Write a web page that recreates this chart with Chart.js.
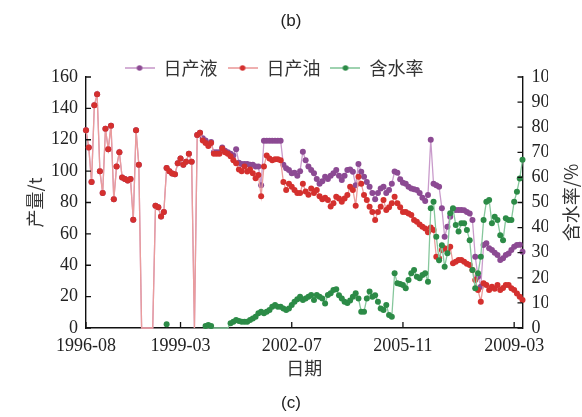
<!DOCTYPE html>
<html><head><meta charset="utf-8">
<script src="https://cdn.jsdelivr.net/npm/chart.js@4.4.1/dist/chart.umd.min.js"></script>
<style>
body{margin:0;background:#fff;}
#wrap{position:relative;width:582px;height:417px;}
.cap{position:absolute;left:0;width:582px;text-align:center;font:17px "Liberation Sans",Arial,sans-serif;color:#222;}
</style></head><body>
<div id="wrap"><canvas id="c" width="582" height="417"></canvas>
<div class="cap" style="top:11px">(b)</div>
<div class="cap" style="top:393px">(c)</div>
</div>
<script>
const seriesNames = ['日产液', '日产油', '含水率'];
const xTitle = '日期';
const leftTitle = '产量/t';
const rightTitle = '含水率/%';
const tickIndex = [0, 34, 74, 114, 154];
const tickLabels = ['1996-08', '1999-03', '2002-07', '2005-11', '2009-03'];

const oil = [126,115,93,142,149,100,86,127,114,129,82,103,112,96,95,94,95,69,126,104,
  0,0,0,0,0,
  78,77,71,74,102,100,98.5,98,105,108,104,106,111,106,
  0,
  123,124.5,119.5,118,116,118,111,111,111,114.5,112,111,109.5,107,105,
  101,100,103,99.7,101,98.6,95.4,97.5,
  84,103,110,108,107,107.5,107.5,107,
  93,88,92,90,88,86,86,
  92,87,85,89,86,88,84,82,83,81.6,
  77.5,79.5,83.7,82.6,80.5,82.6,84.8,90,88,78,
  96.4,92,84.8,81.6,77.3,74,68.8,74,77.3,81.6,
  75.2,77,79.5,83.7,79.5,77,74,74,73,72,
  68.8,67.7,66,64.6,63.5,61,64,62.5,45.4,44.4,
  49.7,50.8,49.7,51.8,41.2,42.3,43.3,43.3,42.3,41,
  40.2,37,30.6,24.2,16.8,28.5,27.4,24.2,26.3,25,
  27.4,24.2,25.5,27.4,27.4,25.3,24.2,22,20,17.8];

const liquid = [126,115,93,142,149,100,86,127,114,129,82,103,112,96,95,94,95,69,126,104,
  0,0,0,0,0,
  78,77,71,74,102,100,98.5,98,105,108,104,106,111,106,
  0,
  123,124.5,
  121,119.5,117,118.5,112,112,112,115,113,112,111,110,114,
  105.4,104.6,104.6,104.6,104,104,103,103,
  91,119.4,119.4,119.4,119.4,119.4,119.4,119.4,
  104,101.8,100.7,98.6,99,97,100,
  112.4,107,103,100.7,98.6,95,92,93.6,96.4,95,
  97,98.6,100.7,97,94.3,97,100.7,101,99.6,91,
  104.5,99.6,96.4,93,90,86,82,86,89,90,
  86,88,92,99.7,99,94.8,92.6,92,90,89,
  88.4,88,86,83,81,84.8,120,92,91,90,
  76.3,58.2,64.6,70.9,75.2,75.2,75.2,75.2,75,74,
  73,68.8,45.4,32.7,26.3,52.9,54,50.8,49.7,48,
  46.5,43.3,44.4,46.5,47.5,49.7,51.8,52.9,53,48.6];

const waterCut = [null,null,null,null,null,null,null,null,null,null,
  null,null,null,null,null,null,null,null,null,null,
  null,null,null,null,null,null,null,null,null,
  1.5,
  null,null,null,null,null,null,null,null,null,null,null,null,null,
  0.8,1.2,0.8,
  0,0,0,0,0,0,
  1.9,2.5,3.2,2.8,2.5,2.5,2.5,3.2,3.8,4.5,
  5.9,6.5,5.9,6.5,7.2,8.5,9.2,8.5,8.5,7.8,
  7.2,7.8,9.2,10.5,11.5,12.5,11.2,11.8,12.5,13.1,
  11.2,13.1,12.5,11.8,9.8,13.1,13.8,15.1,15.4,13,
  11.8,10.5,10,11,12.5,13.8,11.8,6.5,6.5,11.8,
  14.5,12.5,13,10.5,7.8,7.2,9.2,5.2,4.5,21.8,
  17.8,17.5,17.1,15.8,19.1,21.8,23.1,20.4,19.8,21.1,
  21.8,18.4,47.7,50.3,36.4,27,33,24.4,29.8,45.7,
  47.7,41,38.4,41.7,41.7,39,35,23.1,15.8,21.8,
  28.4,43,50.3,51,41.7,44.3,43,37,35,43.7,
  43,43,50.3,54.3,59.6,67];

const pointIdx = oil.map((_, i) => i);

const lineColors = ['#c99bcb', '#eb9c9c', '#86c79c'];
const dotColors = ['#8c4a93', '#d4302e', '#2c8b47'];

function legendIcon(i) {
  const c = document.createElement('canvas');
  c.width = 30; c.height = 8;
  const g = c.getContext('2d');
  g.strokeStyle = lineColors[i]; g.lineWidth = 1.6;
  g.beginPath(); g.moveTo(0, 4); g.lineTo(30, 4); g.stroke();
  g.fillStyle = dotColors[i];
  g.beginPath(); g.arc(15, 4, 2.8, 0, Math.PI * 2); g.fill();
  return c;
}
const icons = [0, 1, 2].map(legendIcon);

const radiusFn = ctx => (ctx.raw === 0 ? 0 : 3);
function ds(label, data, i, axis, order) {
  return {
    label, data, yAxisID: axis, order,
    borderColor: lineColors[i], borderWidth: 1.3,
    pointBackgroundColor: dotColors[i], pointBorderColor: dotColors[i],
    pointRadius: radiusFn, pointBorderWidth: 0, pointHoverRadius: 3,
    tension: 0, spanGaps: false, clip: 4
  };
}

const serif = '"Liberation Serif", "Times New Roman", serif';
const cjk = '"Noto Sans CJK SC", "Noto Sans", sans-serif';

const inwardTicks = {
  id: 'inwardTicks',
  afterDraw(chart) {
    const {ctx, chartArea: a} = chart;
    const sx = chart.scales.x, yl = chart.scales.y, yr = chart.scales.y1;
    ctx.save();
    ctx.strokeStyle = '#111'; ctx.lineWidth = 1.3;
    ctx.beginPath();
    sx.ticks.forEach(t => { const p = sx.getPixelForValue(t.value); ctx.moveTo(p, a.bottom); ctx.lineTo(p, a.bottom - 6); });
    yl.ticks.forEach(t => { const p = yl.getPixelForValue(t.value); ctx.moveTo(a.left, p); ctx.lineTo(a.left + 5, p); });
    yr.ticks.forEach(t => { const p = yr.getPixelForValue(t.value); ctx.moveTo(a.right, p); ctx.lineTo(a.right - 5, p); });
    ctx.stroke();
    ctx.fillStyle = '#333';
    ctx.font = '18px ' + cjk;
    ctx.textAlign = 'center'; ctx.textBaseline = 'middle';
    ctx.translate(571, (a.top + a.bottom) / 2);
    ctx.rotate(-Math.PI / 2);
    ctx.fillText(rightTitle, 0, 0);
    ctx.restore();
  }
};

new Chart(document.getElementById('c'), {
  type: 'line',
  data: {
    labels: pointIdx,
    datasets: [
      ds(seriesNames[0], liquid, 0, 'y', 3),
      ds(seriesNames[1], oil, 1, 'y', 2),
      ds(seriesNames[2], waterCut, 2, 'y1', 1)
    ]
  },
  options: {
    responsive: false, animation: false, devicePixelRatio: 1,
    layout: {padding: {top: 49, right: 34, left: 0, bottom: 0}},
    plugins: {
      tooltip: {enabled: false},
      legend: {
        position: 'top', align: 'center', maxHeight: 28,
        labels: {
          usePointStyle: true, pointStyleWidth: 30, padding: 10,
          font: {family: cjk, size: 18}, color: '#333',
          generateLabels: () => [0, 1, 2].map(i => ({
            text: seriesNames[i], fillStyle: dotColors[i], strokeStyle: lineColors[i],
            lineWidth: 0, pointStyle: icons[i], hidden: false, datasetIndex: i, fontColor: '#333'
          }))
        }
      }
    },
    scales: {
      x: {
        type: 'linear', min: 0, max: oil.length - 1,
        afterBuildTicks: s => { s.ticks = tickIndex.map(v => ({value: v})); },
        afterFit: s => { s.height = 89; },
        ticks: {
          autoSkip: false, maxRotation: 0, padding: 7, color: '#222',
          font: {family: serif, size: 18},
          callback: v => { const k = tickIndex.indexOf(v); return k >= 0 ? tickLabels[k] : ''; }
        },
        grid: {display: true, drawOnChartArea: false, drawTicks: false},
        border: {display: true, color: '#111', width: 1.4},
        title: {display: true, text: xTitle, color: '#333', font: {family: cjk, size: 18}, padding: {top: 0, bottom: 38}}
      },
      y: {
        position: 'left', min: 0, max: 160,
        afterFit: s => { s.width = 86; },
        ticks: {stepSize: 20, padding: 8, color: '#222', font: {family: serif, size: 18}},
        grid: {display: true, drawOnChartArea: false, drawTicks: false},
        border: {display: true, color: '#111', width: 1.4},
        title: {display: true, text: leftTitle, color: '#333', font: {family: cjk, size: 18}, padding: {top: 24, bottom: 0}}
      },
      y1: {
        position: 'right', min: 0, max: 100,
        afterFit: s => { s.width = 25.5; },
        ticks: {stepSize: 10, padding: 9, color: '#222', font: {family: serif, size: 18}},
        grid: {display: true, drawOnChartArea: false, drawTicks: false},
        border: {display: true, color: '#111', width: 1.4}
      }
    }
  },
  plugins: [inwardTicks]
});
</script>
</body></html>
